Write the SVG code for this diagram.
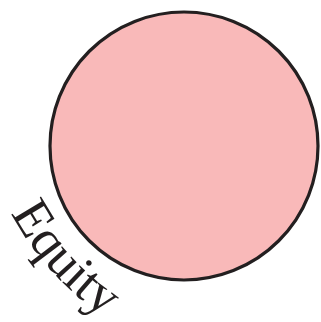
<svg xmlns="http://www.w3.org/2000/svg" width="321" height="322" viewBox="0 0 321 322">
<style>
.lbl{font-family:"Liberation Serif","Times New Roman",serif;font-size:53px;fill:#231f20}
</style>
<defs>
<path id="arc" d="M 11,213 A 290 290 0 0 0 257,366.8" fill="none"/>
</defs>
<rect width="321" height="322" fill="#fff"/>
<g id="equity">
<circle cx="184" cy="146" r="134" fill="#f9b9b9" stroke="#231f20" stroke-width="3.2"/>
<text class="lbl"><textPath href="#arc">Equity</textPath></text>
</g>
</svg>
